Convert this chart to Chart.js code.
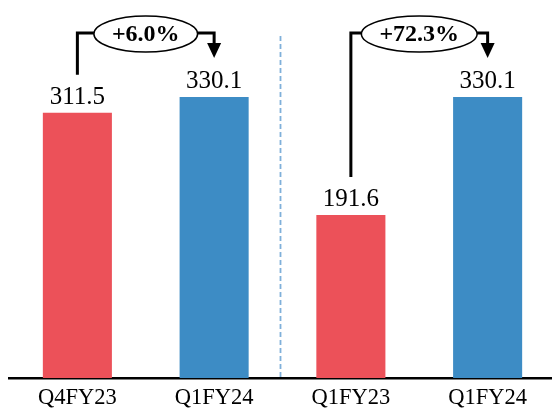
<!DOCTYPE html>
<html>
<head>
<meta charset="utf-8">
<script src="https://cdn.jsdelivr.net/npm/chart.js@4"></script>
<style>
	html, body { margin: 0; padding: 0; background: #fff; overflow: hidden; width: 552px; height: 410px; }
	canvas { display: block; }
</style>
</head>
<body>
<canvas id="plot" width="556" height="410"></canvas>
<script>
const categories = ['Q4FY23', 'Q1FY24', 'Q1FY23', 'Q1FY24 '];
const values = [311.5, 330.1, 191.6, 330.1];
const bar_colors = ['#ec5159', '#3d8cc5', '#ec5159', '#3d8cc5'];

// pairs of bar indexes compared, with the growth label
const growth = [[0, 1, '+6.0%'], [2, 3, '+72.3%']];

const font_name = '"Liberation Serif", serif';

const annotations =
{
	id: 'annotations',
	afterDatasetsDraw(chart)
	{
		const ctx = chart.ctx;
		const x = chart.scales.x;
		const y = chart.scales.y;
		const area = chart.chartArea;

		ctx.save();

		// value labels
		ctx.fillStyle = '#000';
		ctx.font = '25px ' + font_name;
		ctx.textAlign = 'center';
		ctx.textBaseline = 'alphabetic';
		for (let i = 0; i < values.length; ++i)
			ctx.fillText(values[i].toFixed(1), x.getPixelForValue(i), y.getPixelForValue(values[i]) - 9);

		// dashed divider between the two groups
		const mid = (x.getPixelForValue(1) + x.getPixelForValue(2)) / 2 - 2;
		ctx.strokeStyle = '#7fb0da';
		ctx.lineWidth = 1.8;
		ctx.setLineDash([5, 3]);
		ctx.beginPath();
		ctx.moveTo(mid, area.top + 36);
		ctx.lineTo(mid, area.bottom);
		ctx.stroke();
		ctx.setLineDash([]);

		// growth brackets
		const level = area.top + 33;
		for (const g of growth)
		{
			const x0 = x.getPixelForValue(g[0]);
			const x1 = x.getPixelForValue(g[1]);
			const y0 = y.getPixelForValue(values[g[0]]) - 38;
			const y1 = y.getPixelForValue(values[g[1]]) - 39;
			const cx = (x0 + x1) / 2;

			ctx.font = 'bold 24px ' + font_name;
			const rx = ctx.measureText(g[2]).width / 2 + 18;
			const ry = 18;

			ctx.strokeStyle = '#000';
			ctx.lineWidth = 3;
			ctx.beginPath();
			ctx.moveTo(x0, y0);
			ctx.lineTo(x0, level);
			ctx.lineTo(cx - rx, level);
			ctx.moveTo(cx + rx, level);
			ctx.lineTo(x1, level);
			ctx.lineTo(x1, y1 - 13);
			ctx.stroke();

			ctx.fillStyle = '#000';
			ctx.beginPath();
			ctx.moveTo(x1 - 7, y1 - 15);
			ctx.lineTo(x1 + 7, y1 - 15);
			ctx.lineTo(x1, y1);
			ctx.closePath();
			ctx.fill();

			ctx.lineWidth = 1.5;
			ctx.fillStyle = '#fff';
			ctx.beginPath();
			ctx.ellipse(cx, level + 1, rx, ry, 0, 0, Math.PI * 2);
			ctx.fill();
			ctx.stroke();

			ctx.fillStyle = '#000';
			ctx.textBaseline = 'middle';
			ctx.fillText(g[2], cx, level + 2);
			ctx.textBaseline = 'alphabetic';
		}

		ctx.restore();
	}
};

function onLoad()
{
	const ctx = document.getElementById('plot').getContext('2d');

	new Chart(ctx,
	{
		type: 'bar',
		data:
		{
			labels: categories,
			datasets: [{
				data: values,
				backgroundColor: bar_colors,
				borderWidth: 0,
				barPercentage: 1,
				categoryPercentage: 0.505
			}]
		},
		options:
		{
			responsive: false,
			animation: false,
			layout: { padding: { left: 9, right: 0, top: 0, bottom: -9 } },
			plugins: { legend: { display: false }, tooltip: { enabled: false } },
			scales:
			{
				x:
				{
					grid: { display: false, drawTicks: false },
					border: { display: true, color: '#000', width: 2.5 },
					ticks:
					{
						color: '#000',
						padding: 7,
						font: { family: font_name, size: 22.5 },
						callback: function(v) { return categories[v].trim(); }
					}
				},
				y:
				{
					display: false,
					min: 0,
					max: 444
				}
			}
		},
		plugins: [annotations]
	});
}

onLoad();
</script>
</body>
</html>
